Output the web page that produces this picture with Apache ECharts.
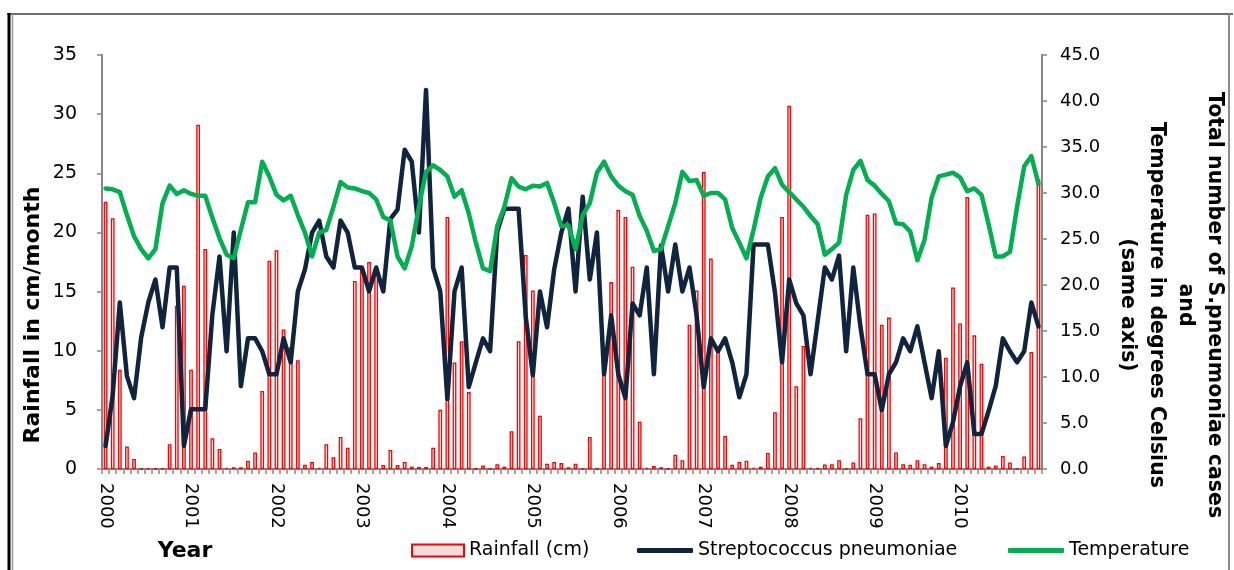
<!DOCTYPE html>
<html>
<head>
<meta charset="utf-8">
<script src="https://cdn.jsdelivr.net/npm/echarts@6/dist/echarts.min.js"></script>
<style>
html,body{margin:0;padding:0;background:#fff;}
#chart{width:1234px;height:570px;}
</style>
</head>
<body>
<div id="chart"></div>
<script>
const years = ['2000','2001','2002','2003','2004','2005','2006','2007','2008','2009','2010'];
const months = ['01','02','03','04','05','06','07','08','09','10','11','12'];

const rainfall = [
  22.6, 21.2, 8.4, 1.9, 0.85, 0, 0.05, 0, 0.05, 2.1, 13.8, 15.5,
  8.4, 29.1, 18.6, 2.6, 1.7, 0.1, 0.15, 0.15, 0.7, 1.4, 6.6, 17.6,
  18.5, 11.8, 10.3, 9.2, 0.35, 0.6, 0.1, 2.1, 1.0, 2.7, 1.8, 15.9,
  17.0, 17.5, 16.6, 0.34, 1.6, 0.34, 0.6, 0.2, 0.17, 0.17, 1.8, 5.0,
  21.3, 9.0, 10.8, 6.5, 0, 0.3, 0, 0.4, 0.2, 3.2, 10.8, 18.1,
  15.1, 4.5, 0.45, 0.6, 0.5, 0.15, 0.45, 0, 2.7, 0, 8.0, 15.8,
  21.9, 21.3, 17.1, 4.0, 0.1, 0.25, 0.15, 0, 1.2, 0.75, 12.2, 15.1,
  25.1, 17.8, 10.0, 2.8, 0.35, 0.6, 0.7, 0.1, 0.2, 1.35, 4.8, 21.3,
  30.7, 7.0, 10.4, 0.1, 0.05, 0.37, 0.4, 0.75, 0, 0.55, 4.3, 21.5,
  21.6, 12.2, 12.8, 1.4, 0.4, 0.35, 0.75, 0.4, 0.2, 0.5, 9.4, 15.35,
  12.3, 23.0, 11.3, 8.9, 0.2, 0.3, 1.1, 0.55, 0, 1.05, 9.9, 24.5
];

const strep = [
  2.5, 8.0, 18.1, 10.1, 7.7, 14.3, 18.1, 20.6, 15.4, 21.9, 21.9, 2.5,
  6.5, 6.5, 6.5, 16.8, 23.1, 12.8, 25.7, 9.0, 14.2, 14.2, 12.8, 10.3,
  10.3, 14.2, 11.6, 19.3, 21.7, 25.7, 27.0, 23.1, 21.9, 27.0, 25.7, 21.9,
  21.9, 19.3, 21.9, 19.3, 27.2, 28.2, 34.7, 33.4, 25.7, 41.2, 21.9, 19.3,
  7.6, 19.3, 21.9, 8.9, 11.6, 14.2, 12.8, 25.8, 28.3, 28.3, 28.3, 16.6,
  10.2, 19.3, 15.4, 21.7, 25.7, 28.3, 19.3, 29.6, 20.6, 25.7, 10.3, 16.7,
  10.3, 7.7, 18.0, 16.7, 21.9, 10.3, 24.3, 19.3, 24.4, 19.3, 21.9, 16.7,
  8.9, 14.2, 12.8, 14.2, 11.6, 7.8, 10.3, 24.4, 24.4, 24.4, 19.2, 11.6,
  20.6, 18.0, 16.7, 10.3, 16.1, 21.9, 20.6, 23.2, 12.8, 21.9, 15.5, 10.3,
  10.3, 6.4, 10.3, 11.6, 14.2, 12.8, 15.5, 11.6, 7.7, 12.8, 2.5, 5.1,
  9.0, 11.6, 3.8, 3.8, 6.3, 9.0, 14.2, 12.8, 11.6, 12.8, 18.1, 15.5
];

const temperature = [
  30.5, 30.4, 30.1, 27.6, 25.3, 23.9, 22.9, 23.9, 28.9, 30.8, 29.9, 30.3,
  29.9, 29.7, 29.7, 27.3, 25.1, 23.3, 22.9, 26.0, 29.0, 29.0, 33.4, 31.8,
  29.8, 29.2, 29.7, 27.6, 25.7, 23.1, 25.7, 26.0, 28.5, 31.2, 30.6, 30.5,
  30.2, 30.0, 29.3, 27.4, 27.0, 23.1, 21.8, 24.2, 28.5, 32.3, 33.0, 32.5,
  31.8, 29.6, 30.3, 27.8, 24.6, 21.8, 21.5, 26.4, 28.5, 31.6, 30.7, 30.4,
  30.8, 30.7, 31.1, 28.9, 26.4, 26.5, 23.9, 27.6, 28.9, 32.2, 33.4, 31.8,
  30.8, 30.2, 29.8, 27.5, 25.9, 23.7, 23.9, 26.4, 28.9, 32.3, 31.3, 31.4,
  29.7, 30.0, 30.0, 29.3, 26.2, 24.6, 22.9, 26.0, 29.5, 31.8, 32.7, 30.9,
  30.1, 29.3, 28.5, 27.5, 26.6, 23.3, 23.9, 24.6, 29.8, 32.5, 33.5, 31.4,
  30.8, 29.9, 29.1, 26.7, 26.6, 25.8, 22.7, 24.9, 29.5, 31.8, 32.0, 32.2,
  31.7, 30.2, 30.5, 29.8, 26.6, 23.1, 23.1, 23.6, 28.5, 32.9, 34.0, 31.0
];

const categories = [];
years.forEach(y => months.forEach(m => categories.push(y + '-' + m)));

const FONT = 'DejaVu Sans';
const AXIS_GREY = '#868686';

const chart = echarts.init(document.getElementById('chart'), null, {renderer: 'canvas'});

const legendBase = {
  top: 541,
  padding: 0,
  itemGap: 0,
  textStyle: {fontFamily: FONT, fontSize: 19, color: '#000'},
  selectedMode: false
};

chart.setOption({
  animation: false,
  backgroundColor: '#fff',
  grid: {left: 102, right: 192, top: 55, bottom: 101, containLabel: false},
  legend: [
    Object.assign({}, legendBase, {left: 411, itemWidth: 52, itemHeight: 12,
      data: [{name: 'Rainfall (cm)', icon: 'rect'}]}),
    Object.assign({}, legendBase, {left: 637, itemWidth: 56, itemHeight: 5,
      data: [{name: 'Streptococcus pneumoniae', icon: 'roundRect'}]}),
    Object.assign({}, legendBase, {left: 1008, itemWidth: 56, itemHeight: 5,
      data: [{name: 'Temperature', icon: 'roundRect'}]})
  ],
  xAxis: {
    type: 'category',
    data: categories,
    boundaryGap: true,
    axisLine: {lineStyle: {color: AXIS_GREY, width: 2}},
    axisTick: {show: true, interval: 0, length: 5, lineStyle: {color: AXIS_GREY, width: 1.5}},
    axisLabel: {
      interval: 11,
      rotate: -90,
      margin: 14,
      fontFamily: FONT,
      fontSize: 18,
      color: '#000',
      formatter: v => v.slice(0, 4)
    },
    splitLine: {show: false}
  },
  yAxis: [
    {
      type: 'value', min: 0, max: 35, interval: 5, position: 'left',
      axisLine: {show: true, lineStyle: {color: AXIS_GREY, width: 2}},
      axisTick: {show: true, length: 5, lineStyle: {color: AXIS_GREY, width: 1.5}},
      axisLabel: {fontFamily: FONT, fontSize: 19, color: '#000', margin: 25},
      splitLine: {show: false}
    },
    {
      type: 'value', min: 0, max: 45, interval: 5, position: 'right',
      axisLine: {show: true, lineStyle: {color: AXIS_GREY, width: 2}},
      axisTick: {show: true, length: 5, lineStyle: {color: AXIS_GREY, width: 1.5}},
      axisLabel: {fontFamily: FONT, fontSize: 18, color: '#000', margin: 18, formatter: v => v.toFixed(1)},
      splitLine: {show: false}
    }
  ],
  series: [
    {
      name: 'Rainfall (cm)', type: 'bar', yAxisIndex: 0, data: rainfall,
      barWidth: 3.8,
      itemStyle: {color: '#f2dcdb', borderColor: '#ff0000', borderWidth: 1.3},
      z: 1
    },
    {
      name: 'Streptococcus pneumoniae', type: 'line', yAxisIndex: 1, data: strep,
      symbol: 'none', showSymbol: false,
      lineStyle: {color: '#10243e', width: 4.5, cap: 'round', join: 'round'},
      itemStyle: {color: '#10243e'},
      z: 3
    },
    {
      name: 'Temperature', type: 'line', yAxisIndex: 1, data: temperature,
      symbol: 'none', showSymbol: false,
      lineStyle: {color: '#00b050', width: 4.5, cap: 'round', join: 'round'},
      itemStyle: {color: '#00b050'},
      z: 4
    }
  ],
  graphic: [
    {type: 'line', shape: {x1: 7, y1: 14, x2: 1233, y2: 14}, style: {stroke: '#6f6f6f', lineWidth: 2}, silent: true},
    {type: 'line', shape: {x1: 9, y1: 13, x2: 9, y2: 570}, style: {stroke: '#000', lineWidth: 3}, silent: true},
    {type: 'line', shape: {x1: 12.5, y1: 14, x2: 12.5, y2: 570}, style: {stroke: '#9a9a9a', lineWidth: 1.5}, silent: true},
    {type: 'line', shape: {x1: 1229, y1: 14, x2: 1229, y2: 570}, style: {stroke: '#8a8a8a', lineWidth: 2}, silent: true},
    {
      type: 'text', x: 33, y: 315, rotation: Math.PI / 2,
      style: {text: 'Rainfall in cm/month', font: 'bold 22px "DejaVu Sans"', fill: '#000', align: 'center', verticalAlign: 'middle'},
      silent: true
    },
    {
      type: 'text', x: 1171, y: 305, rotation: -Math.PI / 2,
      style: {
        text: 'Total number of S.pneumoniae cases\nand\nTemperature in degrees Celsius\n(same axis)',
        font: 'bold 20.5px "DejaVu Sans"', fill: '#000', align: 'center', verticalAlign: 'middle', lineHeight: 29
      },
      silent: true
    },
    {
      type: 'text', x: 185, y: 551,
      style: {text: 'Year', font: 'bold 22px "DejaVu Sans"', fill: '#000', align: 'center', verticalAlign: 'middle'},
      silent: true
    }
  ]
});
</script>
</body>
</html>
